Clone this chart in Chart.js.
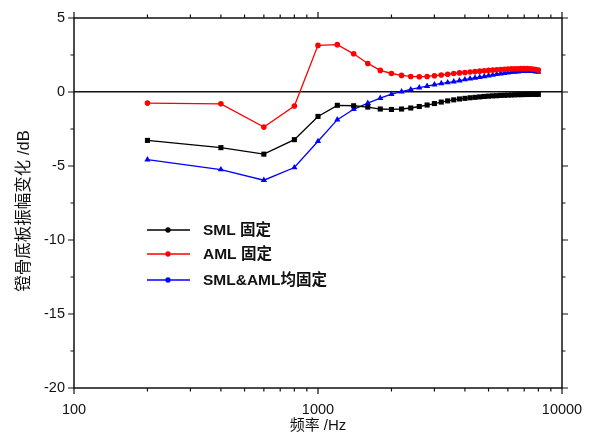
<!DOCTYPE html>
<html>
<head>
<meta charset="utf-8">
<script src="https://cdn.jsdelivr.net/npm/chart.js@4/dist/chart.umd.min.js"></script>
<style>
html,body{margin:0;padding:0;background:#fff;}
#wrap{width:598px;height:437px;position:relative;}
</style>
</head>
<body>
<div id="wrap"><canvas id="c" width="598" height="437"></canvas></div>
<script>
const freq = [200,400,600,800,1000,1200,1400,1600,1800,2000,2200,2400,2600,2800,3000,3200,3400,3600,3800,4000,4200,4400,4600,4800,5000,5200,5400,5600,5800,6000,6200,6400,6600,6800,7000,7200,7400,7600,7800,8000];
const smlFixed = [-3.27,-3.76,-4.2,-3.22,-1.65,-0.9,-0.93,-1.02,-1.15,-1.18,-1.15,-1.08,-0.98,-0.88,-0.78,-0.68,-0.6,-0.53,-0.47,-0.43,-0.39,-0.36,-0.33,-0.3,-0.28,-0.26,-0.25,-0.23,-0.22,-0.21,-0.2,-0.19,-0.18,-0.18,-0.17,-0.17,-0.16,-0.16,-0.16,-0.16];
const amlFixed = [-0.75,-0.8,-2.37,-0.95,3.15,3.2,2.58,1.93,1.46,1.25,1.12,1.05,1.03,1.05,1.1,1.15,1.2,1.25,1.29,1.32,1.35,1.38,1.41,1.44,1.46,1.48,1.5,1.52,1.54,1.55,1.56,1.57,1.57,1.58,1.58,1.58,1.57,1.55,1.52,1.48];
const bothFixed = [-4.57,-5.24,-5.96,-5.1,-3.33,-1.87,-1.17,-0.75,-0.42,-0.15,0.02,0.17,0.29,0.4,0.5,0.58,0.64,0.7,0.77,0.84,0.9,0.95,1.0,1.05,1.1,1.15,1.2,1.24,1.27,1.3,1.33,1.36,1.38,1.4,1.41,1.41,1.41,1.4,1.38,1.35];
const seriesLabels = ['SML 固定','AML 固定','SML&AML均固定'];
const xTickValues = [100,200,300,400,500,600,700,800,900,1000,2000,3000,4000,5000,6000,7000,8000,9000,10000];
const xLabelValues = [100,1000,10000];
const yTickValues = [-20,-17.5,-15,-12.5,-10,-7.5,-5,-2.5,0,2.5,5];
const xTitle = '频率 /Hz';
const yTitle = '镫骨底板振幅变化 /dB';

const FONT = '"Liberation Sans", Arial, Helvetica, sans-serif';
const CJK = '"Liberation Sans", "Noto Sans CJK SC", sans-serif';
const TXT = '#111';

function mk(vals){ return freq.map((f,i)=>({x:f,y:vals[i]})); }

const frame = {
  id:'frame',
  afterDraw(chart){
    const {ctx, chartArea:a, scales:{x,y}} = chart;
    ctx.save();
    ctx.strokeStyle = '#111';
    ctx.lineWidth = 1.5;
    ctx.strokeRect(a.left, a.top, a.right-a.left, a.bottom-a.top);
    ctx.lineWidth = 1.2;
    ctx.beginPath();
    xTickValues.forEach(v=>{
      const px = x.getPixelForValue(v);
      const L = xLabelValues.includes(v) ? 6 : 3.5;
      ctx.moveTo(px, a.bottom); ctx.lineTo(px, a.bottom+L);
      ctx.moveTo(px, a.top); ctx.lineTo(px, a.top-L);
    });
    yTickValues.forEach(v=>{
      const py = y.getPixelForValue(v);
      const L = (v%5===0) ? 6 : 3.5;
      ctx.moveTo(a.left, py); ctx.lineTo(a.left-L, py);
      ctx.moveTo(a.right, py); ctx.lineTo(a.right+L, py);
    });
    ctx.stroke();
    // y title
    ctx.save();
    ctx.translate(24, 211);
    ctx.rotate(-Math.PI/2);
    ctx.fillStyle = TXT;
    ctx.font = '16.5px ' + CJK;
    ctx.textAlign = 'center';
    ctx.textBaseline = 'middle';
    ctx.fillText(yTitle, 0, 0);
    ctx.restore();
    // legend
    const rows = [230, 254, 280];
    chart.data.datasets.forEach((ds,i)=>{
      const yy = rows[i];
      ctx.strokeStyle = ds.borderColor;
      ctx.lineWidth = 1.3;
      ctx.beginPath(); ctx.moveTo(147,yy); ctx.lineTo(190,yy); ctx.stroke();
      Chart.helpers.drawPoint(ctx,{pointStyle:'circle',radius:2,rotation:0,borderWidth:1},168,yy);
      ctx.fillStyle = ds.borderColor;
      ctx.fill();
      ctx.fillStyle = TXT;
      ctx.font = 'bold 15.5px ' + CJK;
      ctx.textBaseline = 'middle';
      ctx.textAlign = 'left';
      ctx.fillText(ds.label, 203, yy+1);
    });
    ctx.restore();
  }
};

const dsBase = {borderWidth:1.3, pointBorderWidth:0, tension:0, fill:false};
new Chart(document.getElementById('c'), {
  type:'line',
  data:{datasets:[
    Object.assign({label:seriesLabels[0], data:mk(smlFixed), borderColor:'#000', backgroundColor:'#000', pointStyle:'rect', pointRadius:3.6, pointHoverRadius:3.6}, dsBase),
    Object.assign({label:seriesLabels[1], data:mk(amlFixed), borderColor:'#ff0000', backgroundColor:'#ff0000', pointStyle:'circle', pointRadius:2.8, pointHoverRadius:2.8}, dsBase),
    Object.assign({label:seriesLabels[2], data:mk(bothFixed), borderColor:'#0000ff', backgroundColor:'#0000ff', pointStyle:'triangle', pointRadius:3.6, pointHoverRadius:3.6}, dsBase)
  ]},
  options:{
    responsive:false, animation:false,
    layout:{padding:{top:18,right:36,left:0,bottom:0}},
    plugins:{legend:{display:false}, tooltip:{enabled:false}},
    scales:{
      x:{type:'logarithmic', min:100, max:10000,
        afterBuildTicks(s){ s.ticks = xTickValues.map(v=>({value:v})); },
        afterFit(s){ s.height = 49; },
        border:{display:false},
        grid:{drawOnChartArea:false, drawTicks:false},
        ticks:{autoSkip:false, maxRotation:0, padding:13, color:TXT, font:{family:FONT,size:14.5},
          callback(v){ return xLabelValues.includes(v) ? String(v) : ''; }},
        title:{display:true, text:xTitle, color:TXT, font:{family:CJK,size:15}, padding:{top:0,bottom:2}}
      },
      y:{min:-20, max:5,
        afterBuildTicks(s){ s.ticks = yTickValues.map(v=>({value:v})); },
        afterFit(s){ s.width = 74; },
        border:{display:false},
        grid:{drawTicks:false, color(c){ return c.tick && c.tick.value===0 ? '#111' : 'rgba(0,0,0,0)'; }, lineWidth:1.5},
        ticks:{autoSkip:false, padding:9, color:TXT, font:{family:FONT,size:14.5},
          callback(v){ return v%5===0 ? String(v) : ''; }},
        title:{display:false}
      }
    }
  },
  plugins:[frame]
});
</script>
</body>
</html>
